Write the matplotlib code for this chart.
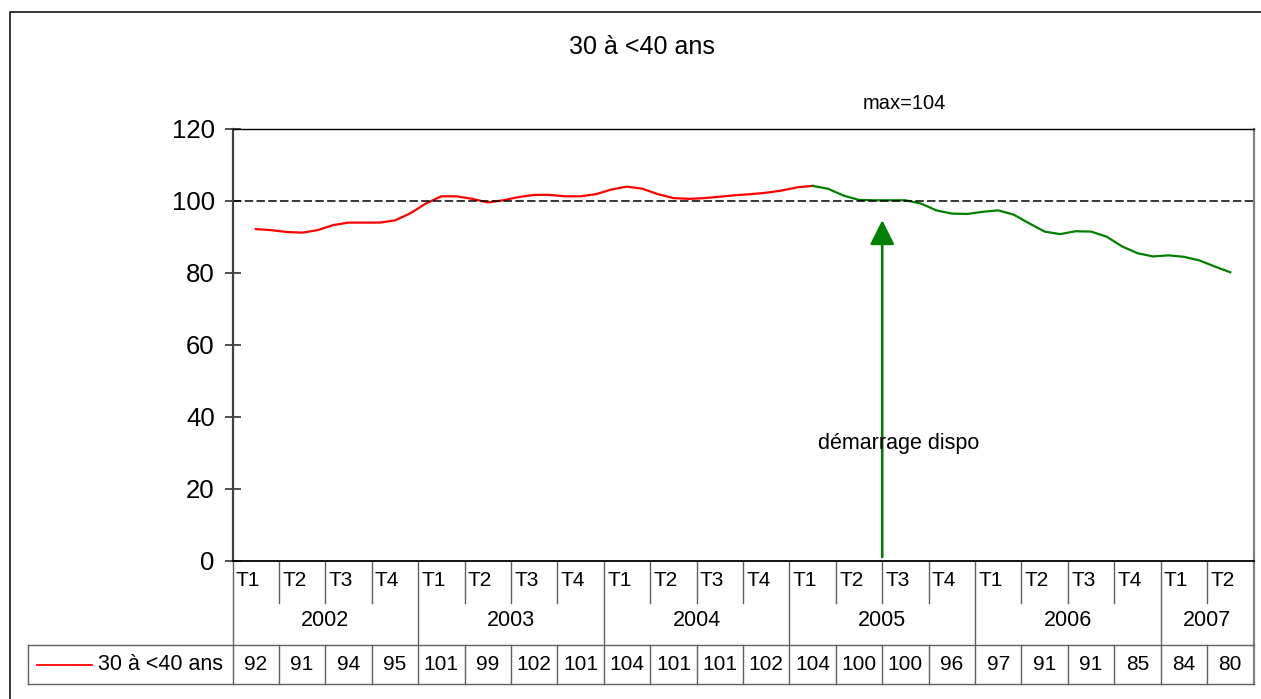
import numpy as np
import matplotlib
matplotlib.use('Agg')
import matplotlib.pyplot as plt
from matplotlib.patches import Rectangle
from matplotlib.transforms import blended_transform_factory

plt.rcParams['font.family'] = ['Liberation Sans', 'DejaVu Sans']

# monthly index, Feb 2002 .. May 2007
monthly = [92.2, 91.9, 91.4, 91.2, 91.9, 93.3, 94.0, 94.0, 94.0, 94.6,
           96.6, 99.3, 101.3, 101.3, 100.6, 99.6, 100.2, 101.1, 101.7, 101.7,
           101.3, 101.3, 101.9, 103.2, 104.0, 103.4, 101.9, 100.8, 100.6, 100.8,
           101.2, 101.6, 101.9, 102.3, 102.9, 103.8, 104.2, 103.4, 101.5, 100.3,
           100.2, 100.2, 100.2, 99.3, 97.4, 96.5, 96.4, 97.0, 97.4, 96.2,
           93.8, 91.5, 90.8, 91.6, 91.5, 90.1, 87.4, 85.5, 84.6, 84.9,
           84.5, 83.5, 81.8, 80.2]
split_idx = 36  # red before the scheme start, green after

quarters = ['T1', 'T2', 'T3', 'T4'] * 5 + ['T1', 'T2']
years = ['2002', '2003', '2004', '2005', '2006', '2007']
year_len = [4, 4, 4, 4, 4, 2]
table_values = [92, 91, 94, 95, 101, 99, 102, 101, 104, 101, 101, 102,
                104, 100, 100, 96, 97, 91, 91, 85, 84, 80]
series_name = '30 à <40 ans'
ref_level = 100
start_pos = 13.5  # between T2 and T3 2005

W, H = 1261, 699
fig = plt.figure(figsize=(W / 100, H / 100), dpi=100)
ax = fig.add_axes([232.5 / W, 1 - 561 / H, 1021 / W, 432 / H])

x = np.arange(len(monthly)) / 3.0
ax.plot(x[:split_idx + 1], monthly[:split_idx + 1], color='#ff0000', lw=1.6)
ax.plot(x[split_idx:], monthly[split_idx:], color='#008000', lw=1.6)
ax.axhline(ref_level, color='black', lw=1.1, ls=(0, (5.5, 2.2)))

ax.set_xlim(-0.5, len(quarters) - 0.5)
ax.set_ylim(0, 120)
ax.set_xticks([])
ax.set_yticks(range(0, 121, 20))
ax.tick_params(axis='y', direction='inout', length=11.5, width=1.3,
               color='#404040', labelsize=18.5, pad=7)
ax.spines['left'].set_color('#404040')
ax.spines['left'].set_linewidth(1.6)
ax.spines['bottom'].set_color('black')
ax.spines['bottom'].set_linewidth(1.3)
ax.spines['top'].set_linewidth(1.0)
ax.spines['right'].set_color('#808080')
ax.spines['right'].set_linewidth(1.6)

# arrow + annotations
ax.annotate('', xy=(start_pos, 94.7), xytext=(start_pos, 1.1),
            arrowprops=dict(arrowstyle='-|>,head_length=1.0,head_width=0.5',
                            mutation_scale=15, color='#008000', lw=1.9,
                            shrinkA=0, shrinkB=0))
ax.text(13.86, 32.5, 'démarrage dispo', ha='center', va='center', fontsize=15.5)
ax.text(13.97, 127.2, 'max=104', ha='center', va='center', fontsize=14.5,
        clip_on=False)
fig.text(642 / W, 1 - 47 / H, series_name, ha='center', va='center', fontsize=18)

# data table under the axis
tr = blended_transform_factory(ax.transData, ax.transAxes)
ya_q = (561 - 603) / 432
ya_t = (561 - 645) / 432
ya_b = (561 - 684) / 432
x_leg = (28 - 232.5) / 46.41 - 0.5
x_end = len(quarters) - 0.5
lc = '#606060'

year_bounds = list(np.cumsum([0] + year_len))
for k in range(len(quarters) + 1):
    bx = k - 0.5
    if k == len(quarters):
        ax.plot([bx, bx], [0, ya_b], transform=tr, color='#808080', lw=1.6, clip_on=False)
    elif k in year_bounds:
        ax.plot([bx, bx], [0, ya_b], transform=tr, color=lc, lw=1, clip_on=False)
    else:
        ax.plot([bx, bx], [0, ya_q], transform=tr, color=lc, lw=1, clip_on=False)
        ax.plot([bx, bx], [ya_t, ya_b], transform=tr, color=lc, lw=1, clip_on=False)

for yy in (ya_t, ya_b):
    ax.plot([x_leg, x_end], [yy, yy], transform=tr, color=lc, lw=1, clip_on=False)
ax.plot([x_leg, x_leg], [ya_t, ya_b], transform=tr, color=lc, lw=1, clip_on=False)

for i, q in enumerate(quarters):
    ax.text(i - 0.5 + 0.07, (561 - 580) / 432, q, transform=tr, ha='left',
            va='center', fontsize=15)
    ax.text(i, (561 - 665) / 432, str(table_values[i]), transform=tr,
            ha='center', va='center', fontsize=15)

for y_lab, a, b in zip(years, year_bounds[:-1], year_bounds[1:]):
    ax.text((a + b - 1) / 2, (561 - 621) / 432, y_lab, transform=tr,
            ha='center', va='center', fontsize=15.5)

ax.plot([(37 - 232.5) / 46.41 - 0.5, (92 - 232.5) / 46.41 - 0.5],
        [(561 - 665) / 432] * 2, transform=tr, color='#ff0000', lw=1.3,
        clip_on=False)
ax.text((98 - 232.5) / 46.41 - 0.5, (561 - 665) / 432, series_name,
        transform=tr, ha='left', va='center', fontsize=15.5)

# outer chart frame (right/bottom edges fall outside the picture)
fig.patches.append(Rectangle((10 / W, -0.05), 1.1, 1 - 12 / H + 0.05,
                             transform=fig.transFigure, fill=False,
                             edgecolor='black', lw=1.1))

fig.savefig('out.png', dpi=100)
